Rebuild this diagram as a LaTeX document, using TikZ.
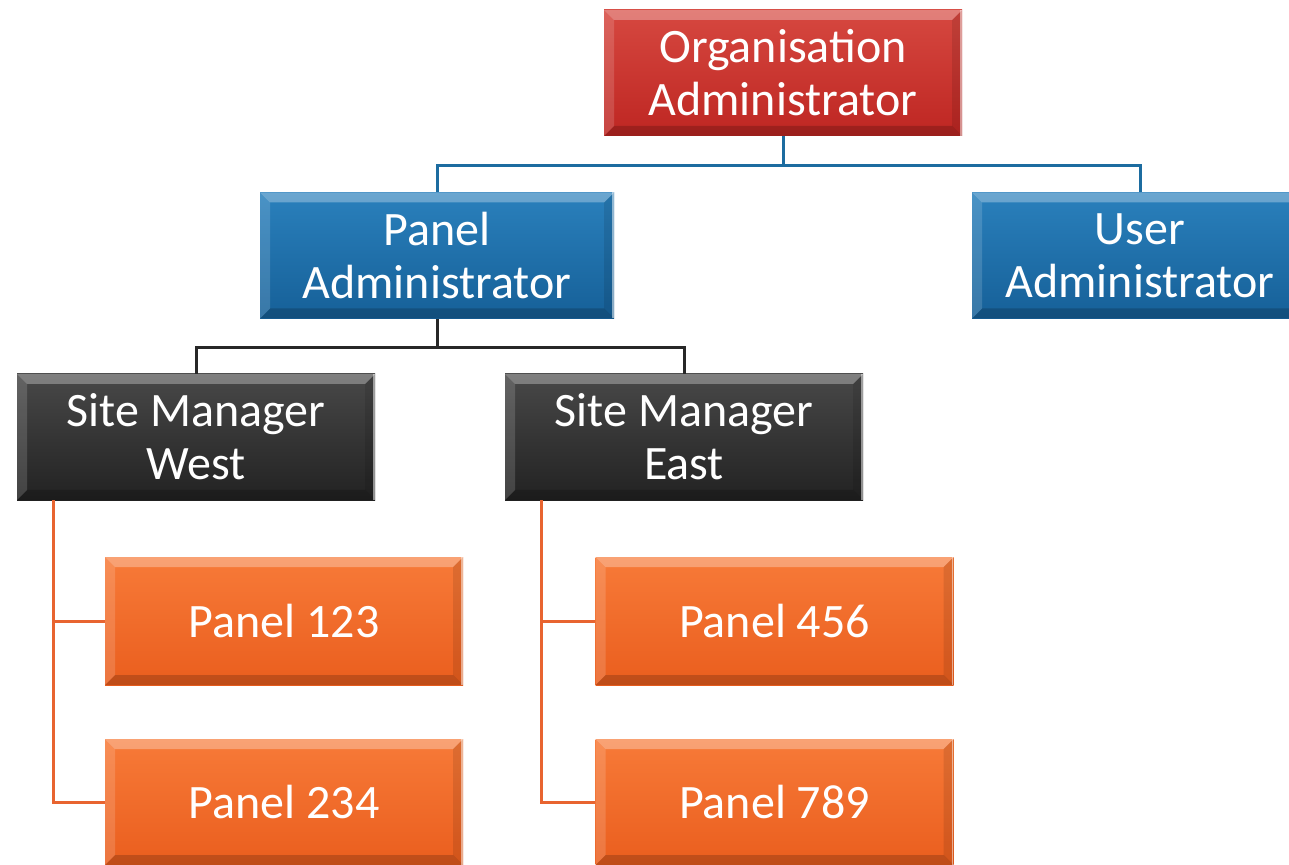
\documentclass[tikz,border=0pt]{standalone}
\usepackage{fontspec}
\setmainfont{Carlito}
\definecolor{redtop}{RGB}{214,72,64}
\definecolor{redbot}{RGB}{190,38,34}
\definecolor{bluetop}{RGB}{42,128,188}
\definecolor{bluebot}{RGB}{22,96,152}
\definecolor{darktop}{RGB}{72,72,72}
\definecolor{darkbot}{RGB}{34,34,34}
\definecolor{orangetop}{RGB}{247,122,56}
\definecolor{orangebot}{RGB}{234,94,30}
\definecolor{blueline}{RGB}{28,108,160}
\definecolor{darkline}{RGB}{40,40,40}
\definecolor{orangeline}{RGB}{232,100,48}

\begin{document}
\begin{tikzpicture}[
  x=0.5pt, y=-0.5pt,
  tile/.style={rectangle, inner sep=0pt, text=white, align=center,
    font={\fontsize{24}{26.5}\selectfont},
    minimum width=179pt, minimum height=63pt,
    % bevel: light on top and left, dark on right and bottom
    path picture={
      \fill[white, opacity=.30] (path picture bounding box.north west)
        -- (path picture bounding box.north east)
        -- ([shift={(-5pt,-5pt)}]path picture bounding box.north east)
        -- ([shift={(5pt,-5pt)}]path picture bounding box.north west) -- cycle;
      \fill[white, opacity=.15] (path picture bounding box.north west)
        -- ([shift={(5pt,-5pt)}]path picture bounding box.north west)
        -- ([shift={(5pt,5pt)}]path picture bounding box.south west)
        -- (path picture bounding box.south west) -- cycle;
      \fill[black, opacity=.10] (path picture bounding box.north east)
        -- (path picture bounding box.south east)
        -- ([shift={(-5pt,5pt)}]path picture bounding box.south east)
        -- ([shift={(-5pt,-5pt)}]path picture bounding box.north east) -- cycle;
      \fill[black, opacity=.18] (path picture bounding box.south west)
        -- (path picture bounding box.south east)
        -- ([shift={(-5pt,5pt)}]path picture bounding box.south east)
        -- ([shift={(5pt,5pt)}]path picture bounding box.south west) -- cycle;
      \draw[white, opacity=.5, line width=.8pt]
        ([xshift=-.5pt]path picture bounding box.north east)
        -- ([xshift=-.5pt]path picture bounding box.south east);
    }},
  redtile/.style={tile, top color=redtop, bottom color=redbot},
  bluetile/.style={tile, top color=bluetop, bottom color=bluebot},
  darktile/.style={tile, top color=darktop, bottom color=darkbot},
  orangetile/.style={tile, top color=orangetop, bottom color=orangebot},
  link/.style={line width=1.5pt},
  ]
  \useasboundingbox (0,0) rectangle (1289,865);

  % Top level
  \node[redtile] (org) at (783,73) {Organisation\\Administrator};

  % Administrators
  \node[bluetile, minimum width=177pt] (padm) at (437,255.5) {Panel\\Administrator};
  \node[bluetile, minimum width=168pt] (uadm) at (1140,255.5) {User\\Administrator};

  % Site managers
  \node[darktile] (smw) at (196,437) {Site Manager\\West};
  \node[darktile] (sme) at (684,437) {Site Manager\\East};

  % Panels
  \node[orangetile, minimum height=64pt] (p123) at (284,621) {Panel 123};
  \node[orangetile] (p234) at (284,802) {Panel 234};
  \node[orangetile, minimum height=64pt] (p456) at (774.5,621) {Panel 456};
  \node[orangetile] (p789) at (774.5,802) {Panel 789};

  % Connectors
  \draw[link, blueline] (org.south) -- ++(0,29) -| (padm.north);
  \draw[link, blueline] (org.south) -- ++(0,29) -| (uadm.north);
  \draw[link, darkline] (padm.south) -- ++(0,29) -| (smw.north);
  \draw[link, darkline] (padm.south) -- ++(0,29) -| (sme.north);

  \coordinate (wrail) at (53,500);
  \coordinate (erail) at (541,500);
  \draw[link, orangeline] (wrail) |- (p123.west);
  \draw[link, orangeline] (wrail) |- (p234.west);
  \draw[link, orangeline] (erail) |- (p456.west);
  \draw[link, orangeline] (erail) |- (p789.west);
\end{tikzpicture}
\end{document}
